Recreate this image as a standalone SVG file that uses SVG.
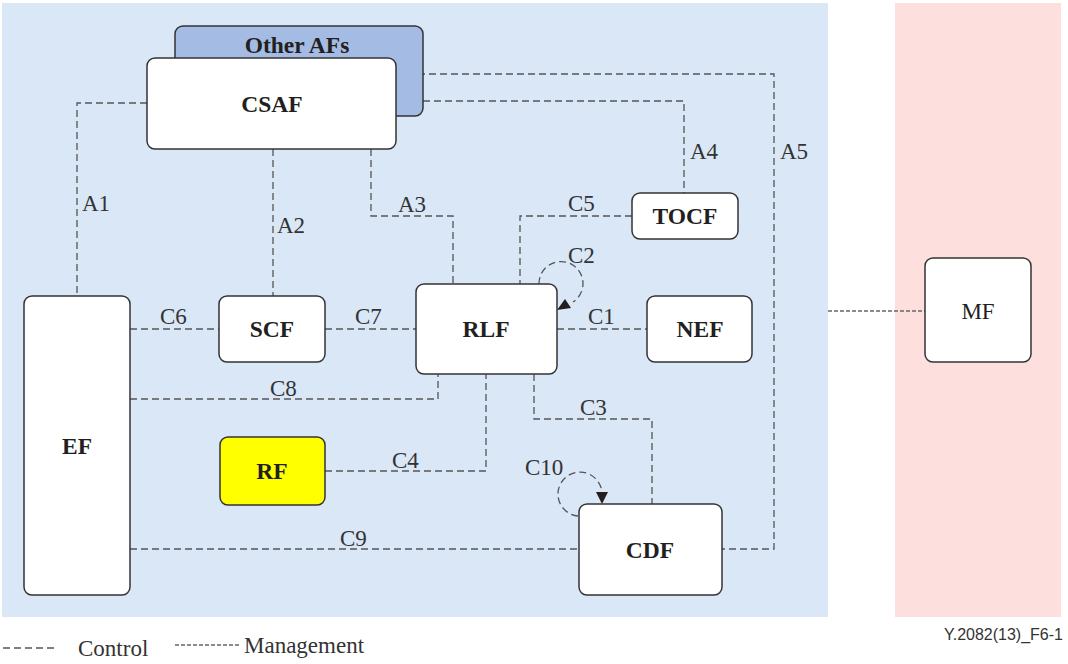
<svg xmlns="http://www.w3.org/2000/svg" width="1068" height="664" viewBox="0 0 1068 664">
  <style>
    .node { fill: #ffffff; stroke: #333333; stroke-width: 1.5; }
    .name { font-family: "Liberation Serif", "Times New Roman", serif; font-size: 23.5px; font-weight: bold; fill: #231f20; text-anchor: middle; }
    .plain { font-family: "Liberation Serif", "Times New Roman", serif; font-size: 23px; fill: #231f20; text-anchor: middle; }
    .lbl { font-family: "Liberation Serif", "Times New Roman", serif; font-size: 23px; fill: #333333; }
    .ctl { fill: none; stroke: #555555; stroke-width: 1.3; stroke-dasharray: 7 4; }
    .mgt { fill: none; stroke: #666666; stroke-width: 1.3; stroke-dasharray: 4 2; }
    .head { fill: #231f20; }
  </style>

  <!-- domains -->
  <rect x="2" y="3" width="826" height="614" fill="#d9e7f7"/>
  <rect x="895" y="3" width="166" height="614" fill="#fde0de"/>

  <!-- connectors -->
  <g id="connectors">
    <path class="ctl" d="M147,103 H77 V296"/>
    <path class="ctl" d="M273,149 V296"/>
    <path class="ctl" d="M371,149 V216 H453 V284"/>
    <path class="ctl" d="M423,101 H684 V193"/>
    <path class="ctl" d="M396,74 H774 V549 H722"/>
    <path class="ctl" d="M632,216 H520 V284"/>
    <path class="ctl" d="M557,329 H647"/>
    <path class="ctl" d="M130,329 H219"/>
    <path class="ctl" d="M325,329 H416"/>
    <path class="ctl" d="M130,399 H438 V374"/>
    <path class="ctl" d="M325,471 H486 V374"/>
    <path class="ctl" d="M534,374 V419 H652 V504"/>
    <path class="ctl" d="M130,549 H579"/>
    <path class="ctl" d="M539,284 A22,22 0 1 1 573,302"/>
    <polygon class="head" points="557,310 565,299 571,308"/>
    <path class="ctl" d="M578,516 A22,22 0 1 1 602,494"/>
    <polygon class="head" points="602,504 596,492 608,492"/>
    <path class="mgt" d="M828,311 H925"/>

    <text class="lbl" x="82" y="211">A1</text>
    <text class="lbl" x="277" y="233">A2</text>
    <text class="lbl" x="398" y="212">A3</text>
    <text class="lbl" x="690" y="159">A4</text>
    <text class="lbl" x="780" y="159">A5</text>
    <text class="lbl" x="568" y="211">C5</text>
    <text class="lbl" x="568" y="263">C2</text>
    <text class="lbl" x="588" y="324">C1</text>
    <text class="lbl" x="160" y="324">C6</text>
    <text class="lbl" x="355" y="324">C7</text>
    <text class="lbl" x="270" y="396">C8</text>
    <text class="lbl" x="580" y="415">C3</text>
    <text class="lbl" x="392" y="468">C4</text>
    <text class="lbl" x="525" y="475">C10</text>
    <text class="lbl" x="340" y="546">C9</text>
  </g>

  <!-- nodes -->
  <g id="other-afs">
    <rect x="175" y="26" width="248" height="90" rx="8" fill="#a4bce3" stroke="#333333" stroke-width="1.5"/>
    <text class="name" x="297" y="53">Other AFs</text>
  </g>
  <g id="csaf">
    <rect class="node" x="147" y="58" width="249" height="91" rx="8"/>
    <text class="name" x="272" y="112">CSAF</text>
  </g>
  <g id="tocf">
    <rect class="node" x="632" y="193" width="106" height="46" rx="8"/>
    <text class="name" x="685" y="224">TOCF</text>
  </g>
  <g id="ef">
    <rect class="node" x="24" y="296" width="106" height="299" rx="8"/>
    <text class="name" x="77" y="454">EF</text>
  </g>
  <g id="scf">
    <rect class="node" x="219" y="296" width="106" height="66" rx="8"/>
    <text class="name" x="272" y="337">SCF</text>
  </g>
  <g id="rlf">
    <rect class="node" x="416" y="284" width="141" height="90" rx="8"/>
    <text class="name" x="486" y="337">RLF</text>
  </g>
  <g id="nef">
    <rect class="node" x="647" y="296" width="105" height="66" rx="8"/>
    <text class="name" x="700" y="337">NEF</text>
  </g>
  <g id="rf">
    <rect x="220" y="437" width="105" height="68" rx="8" fill="#ffff00" stroke="#333333" stroke-width="1.5"/>
    <text class="name" x="272" y="479">RF</text>
  </g>
  <g id="cdf">
    <rect class="node" x="579" y="504" width="143" height="91" rx="8"/>
    <text class="name" x="650" y="558">CDF</text>
  </g>
  <g id="mf">
    <rect class="node" x="925" y="258" width="106" height="104" rx="8"/>
    <text class="plain" x="978" y="319">MF</text>
  </g>

  <!-- legend -->
  <g id="legend">
    <path class="ctl" d="M3,648 H58" stroke-dasharray="7 5"/>
    <text class="lbl" x="78" y="656" fill="#231f20">Control</text>
    <path class="mgt" d="M175,645 H241"/>
    <text class="lbl" x="244" y="653" fill="#231f20">Management</text>
  </g>
  <text x="1063" y="640" text-anchor="end" font-family="Liberation Sans, Arial, sans-serif" font-size="16" fill="#333333">Y.2082(13)_F6-1</text>
</svg>
